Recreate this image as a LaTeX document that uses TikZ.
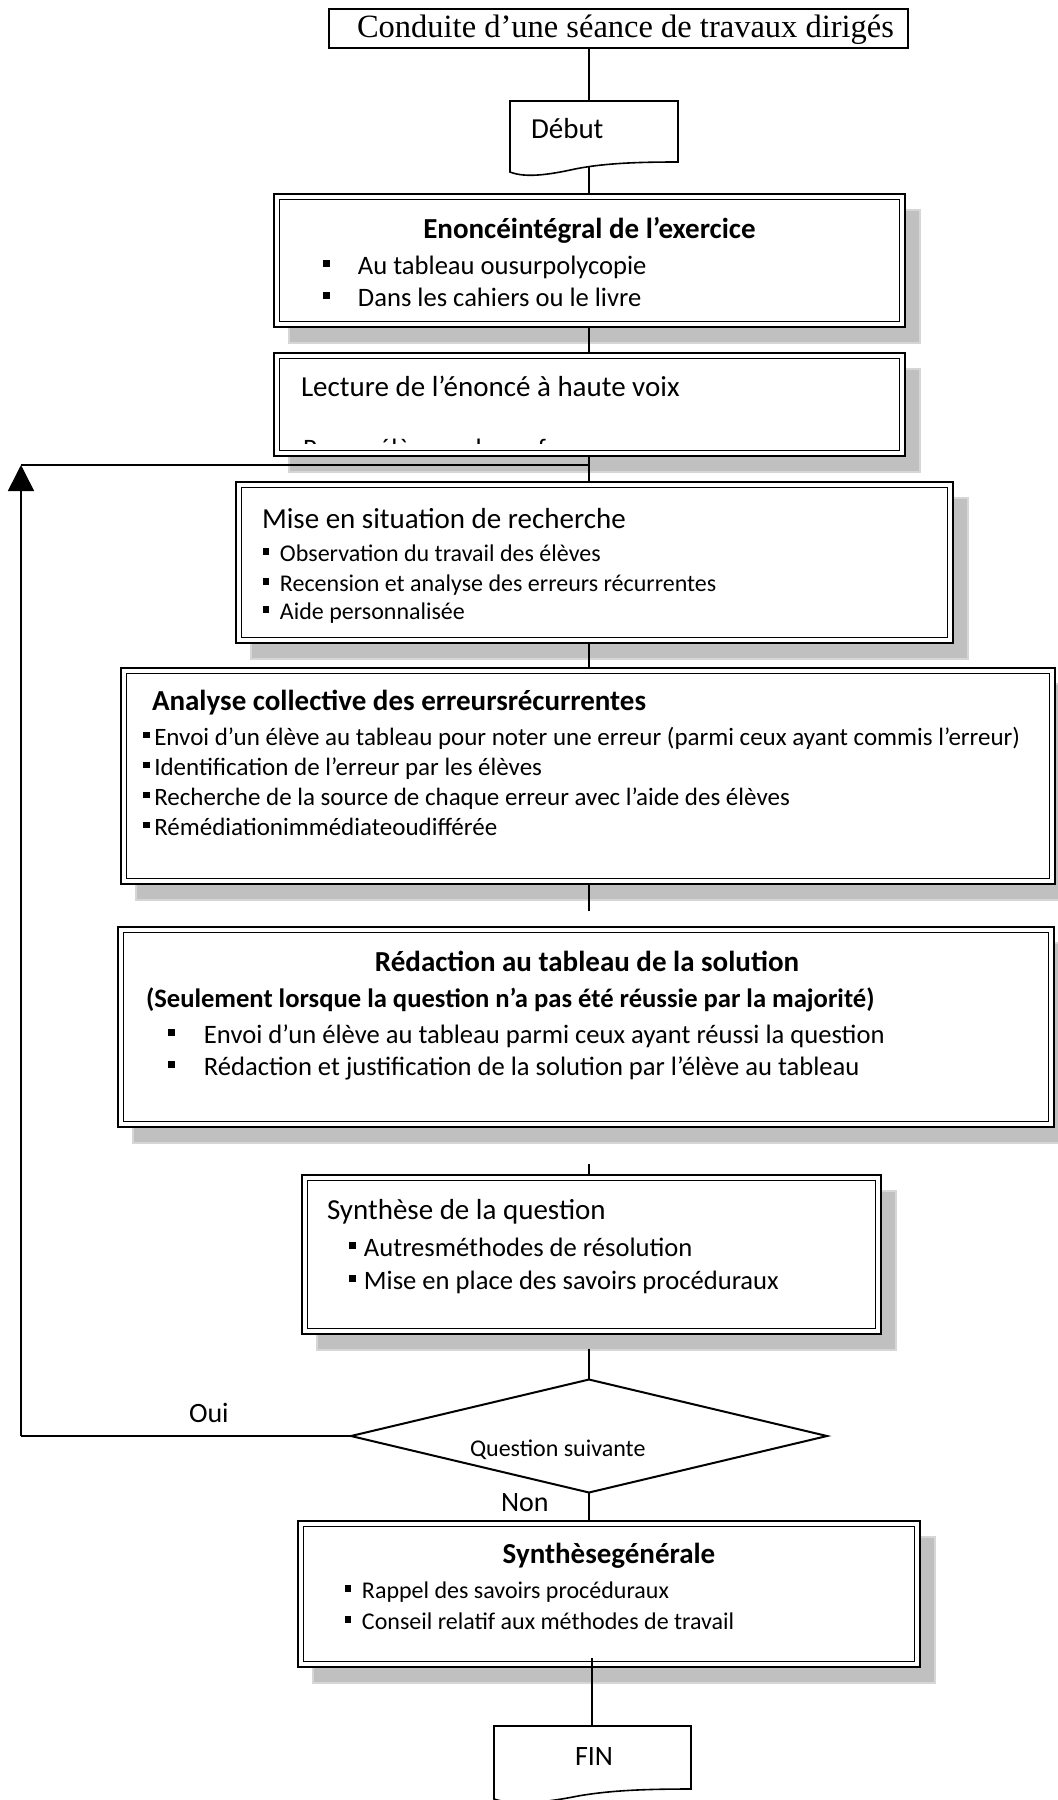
\documentclass[tikz,border=0pt]{standalone}
\usepackage{fontspec}
\setmainfont{Carlito}
\newfontfamily\serifttl{Liberation Serif}
\usetikzlibrary{fit,shapes.geometric,arrows.meta}
\definecolor{shd}{RGB}{192,192,192}
\definecolor{shdedge}{RGB}{214,214,214}
\pgfdeclarelayer{bg}
\pgfsetlayers{bg,main}
\newcommand\fsL{\fontsize{29}{35}\selectfont}
\newcommand\fsM{\fontsize{26.6}{32}\selectfont}
\newcommand\fsB{\fontsize{25}{30}\selectfont}
\newcommand\fsS{\fontsize{24}{29}\selectfont}
\newcommand\fsN{\fontsize{28}{34}\selectfont}
\newcommand\sqb[1]{\rule[0.27em]{0.27em}{0.27em}\hspace*{#1pt}}
\begin{document}
\begin{tikzpicture}[x=1pt,y=-1pt,
  conn/.style={line width=1.6pt},
  dbox/.style={draw, line width=2.7pt, fill=white, inner sep=0pt, outer sep=0pt, rectangle},
  txt/.style={inner sep=0pt, outer sep=0pt, anchor=base west},
  ctxt/.style={inner sep=0pt, outer sep=0pt, anchor=base},
  ghost/.style={inner sep=0pt, outer sep=0pt},
  docshape/.style={line width=1.6pt}]
\useasboundingbox (0,0) rectangle (1058,1800);
\begin{pgfonlayer}{bg}
  \fill[white] (0,0) rectangle (1058,1800);
\end{pgfonlayer}

% title
\node[draw, line width=2pt, inner sep=0pt, outer sep=0pt, fit={(329,9)(908,48)}] (title) {};
\node[txt, font=\serifttl\fontsize{32.5}{38}\selectfont] (ttltxt) at (357,37) {Conduite d’une séance de travaux dirigés};

% Debut document shape
\draw[docshape] (510,172) -- (510,101) -- (678,101) -- (678,162)
  .. controls (640,162) and (605,163) .. (575,169)
  .. controls (548,175) and (525,178) .. (510,172) -- cycle;
\node[ghost, fit={(510,101)(678,172)}] (debut) {};
\node[txt, font=\fsL] (debuttxt) at (531,138) {Début};

% boxes
\node[dbox, fit={(274,194)(905,327)}] (b1) {};
\node[dbox, fit={(274,353)(905,456)}] (b2) {};
\node[dbox, fit={(236,482)(953,643)}] (b3) {};
\node[dbox, fit={(121,668)(1055,884)}] (b4) {};
\node[dbox, fit={(118,927)(1054,1127)}] (b5) {};
\node[dbox, fit={(302,1175)(881,1334)}] (b6) {};
\node[dbox, fit={(298,1521)(920,1667)}] (b7) {};

\foreach \n in {b1,b2,b3,b4,b5,b6,b7}{
  \draw[line width=1.7pt] ([shift={(5.5,5.5)}]\n.north west) rectangle ([shift={(-5.5,-5.5)}]\n.south east);
  \begin{pgfonlayer}{bg}
    \draw[draw=shdedge, fill=shd, line width=2pt] ([shift={(15,16)}]\n.north west) rectangle ([shift={(15,16)}]\n.south east);
  \end{pgfonlayer}
}

% box 1
\node[ctxt, font=\fsL\bfseries] (b1h) at (589.5,238) {Enoncéintégral de l’exercice};
\node[txt, font=\fsM] (b1a) at (323,274) {\sqb{27.8}Au tableau ousurpolycopie};
\node[txt, font=\fsM] (b1b) at (323,306) {\sqb{27.8}Dans les cahiers ou le livre};

% box 2
\node[txt, font=\fsL] (b2h) at (301,396) {Lecture de l’énoncé à haute voix};
\begin{scope}
  \clip (280,360) rectangle (899,443.5);
  \node[txt, font=\fsM] (b2c) at (303,457) {Par un élève ou le professeur};
\end{scope}

% box 3
\node[txt, font=\fsL] (b3h) at (262,528) {Mise en situation de recherche};
\node[txt, font=\fsS] (b3a) at (263,561) {\sqb{10.5}Observation du travail des élèves};
\node[txt, font=\fsS] (b3b) at (263,591) {\sqb{10.5}Recension et analyse des erreurs récurrentes};
\node[txt, font=\fsS] (b3c) at (263,619) {\sqb{10.5}Aide personnalisée};

% box 4
\node[txt, font=\fsL\bfseries] (b4h) at (152,710) {Analyse collective des erreursrécurrentes};
\node[txt, font=\fsB] (b4a) at (143,745) {\sqb{4.5}Envoi d’un élève au tableau pour noter une erreur (parmi ceux ayant commis l’erreur)};
\node[txt, font=\fsB] (b4b) at (143,775) {\sqb{4.5}Identification de l’erreur par les élèves};
\node[txt, font=\fsB] (b4c) at (143,805) {\sqb{4.5}Recherche de la source de chaque erreur avec l’aide des élèves};
\node[txt, font=\fsB] (b4d) at (143,835) {\sqb{4.5}Rémédiationimmédiateoudifférée};

% box 5
\node[ctxt, font=\fsL\bfseries] (b5h) at (587,971) {Rédaction au tableau de la solution};
\node[txt, font=\fsM\bfseries] (b5s) at (146,1007) {(Seulement lorsque la question n’a pas été réussie par la majorité)};
\node[txt, font=\fsM] (b5a) at (168,1043) {\sqb{28.8}Envoi d’un élève au tableau parmi ceux ayant réussi la question};
\node[txt, font=\fsM] (b5b) at (168,1075) {\sqb{28.8}Rédaction et justification de la solution par l’élève au tableau};

% box 6
\node[txt, font=\fsL] (b6h) at (327,1219) {Synthèse de la question};
\node[txt, font=\fsM] (b6a) at (349,1256) {\sqb{7.8}Autresméthodes de résolution};
\node[txt, font=\fsM] (b6b) at (349,1289) {\sqb{7.8}Mise en place des savoirs procéduraux};

% decision
\node[diamond, draw, line width=2pt, minimum width=476pt, minimum height=113pt, inner sep=0pt, outer sep=0pt] (dec) at (589,1436) {};
\node[txt, font=\fsS] (qs) at (470,1456) {Question suivante};
\node[txt, font=\fsN] (oui) at (189,1422) {Oui};
\node[txt, font=\fsN] (non) at (501,1511) {Non};

% box 7
\node[ctxt, font=\fsL\bfseries] (b7h) at (609,1563) {Synthèsegénérale};
\node[txt, font=\fsS] (b7a) at (345,1598) {\sqb{10.5}Rappel des savoirs procéduraux};
\node[txt, font=\fsS] (b7b) at (345,1629) {\sqb{10.5}Conseil relatif aux méthodes de travail};

% FIN document shape
\draw[docshape] (494,1799) -- (494,1726) -- (691,1726) -- (691,1789)
  .. controls (650,1789) and (612,1790) .. (578,1796)
  .. controls (548,1802) and (515,1806) .. (494,1799) -- cycle;
\node[ghost, fit={(494,1726)(691,1799)}] (fin) {};
\node[txt, font=\fsN] (fintxt) at (575,1765) {FIN};

% connectors
\coordinate (cx) at (589,0);
\coordinate (debb) at (589,167);
\coordinate (c45) at (589,911);
\coordinate (c56) at (589,1164);
\coordinate (c6d) at (589,1349);
\coordinate (c7f) at (592,1658);
\coordinate (jn) at (589,465);
\coordinate (ct) at (21,465);
\coordinate (cb) at (21,1436);
\draw[conn] (title.south -| cx) -- (debut.north -| cx);
\draw[conn] (debb) -- (b1.north -| cx);
\draw[conn] (b1.south -| cx) -- (b2.north -| cx);
\draw[conn] (b2.south -| cx) -- (b3.north -| cx);
\draw[conn] (b3.south -| cx) -- (b4.north -| cx);
\draw[conn] (b4.south -| cx) -- (c45);
\draw[conn] (c56) -- (b6.north -| cx);
\draw[conn] (c6d) -- (dec.north);
\draw[conn] (dec.south) -- (b7.north -| dec.south);
\draw[conn] (c7f) -- (fin.north -| c7f);
\draw[conn] (dec.west) -- (cb);
\draw[conn, -{Triangle[length=26pt,width=26pt]}] (cb) -- (ct);
\draw[conn] (ct) -- (jn);
\end{tikzpicture}
\end{document}
